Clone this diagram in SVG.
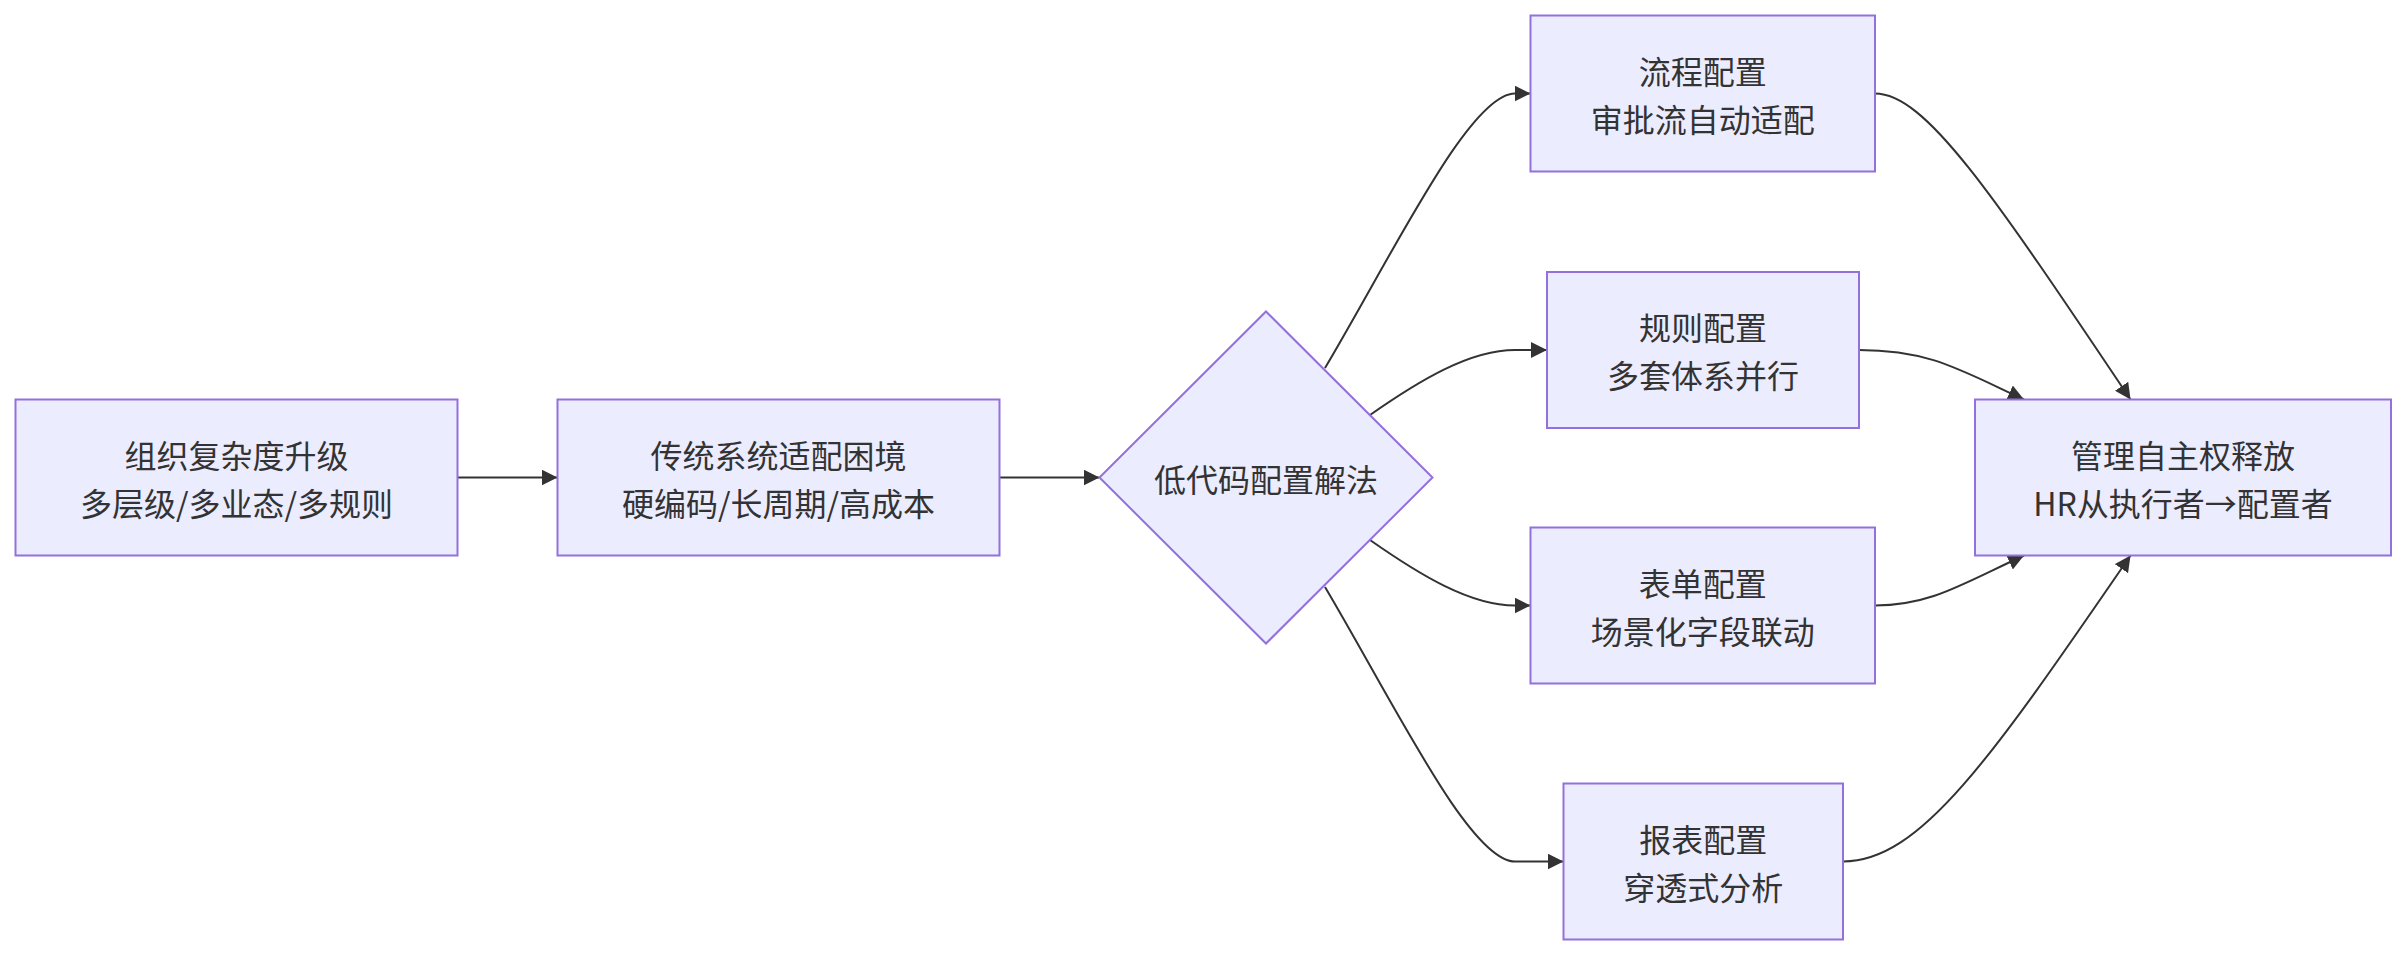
<svg xmlns="http://www.w3.org/2000/svg" width="2406" height="956" viewBox="0 0 2406 956">
<style>
.node rect, .node polygon { fill: #ECECFF; stroke: #9370DB; stroke-width: 2; }
.node text { fill: #333333; font-family: "Noto Sans CJK SC", "Noto Sans", sans-serif; font-size: 32px; text-anchor: middle; dominant-baseline: central; }
.edges path { fill: none; stroke: #333333; stroke-width: 2; marker-end: url(#arrow); }
</style>
<defs>
<marker id="arrow" viewBox="0 0 10 10" refX="10" refY="5" markerUnits="userSpaceOnUse" markerWidth="16" markerHeight="16" orient="auto">
<path d="M0,0 L10,5 L0,10 z" fill="#333333"/>
</marker>
</defs>
<rect width="2406" height="956" fill="#ffffff"/>
<g class="edges">
<path d="M457.5,477.5 L557.5,477.5"/>
<path d="M999.5,477.5 L1099.5,477.5"/>
<path d="M1325,368 C1395,250 1470,93.5 1515,93.5 L1530.5,93.5"/>
<path d="M1370,415 C1420,380 1470,350 1515,350 L1547,350"/>
<path d="M1370,540 C1420,575 1470,605.5 1515,605.5 L1530.5,605.5"/>
<path d="M1325,587 C1395,705 1470,861.5 1515,861.5 L1563.5,861.5"/>
<path d="M1875,93.5 C1925,93.5 1990,190 2130.5,399.5"/>
<path d="M1859,350 C1930,350 1960,370 2024,399.5"/>
<path d="M1875,605.5 C1930,605.5 1960,585 2024,555.5"/>
<path d="M1843,861.5 C1920,861.5 1990,760 2130.5,555.5"/>
</g>
<g id="n1" class="node">
<rect x="15.5" y="399.5" width="442" height="156"/>
<text x="236.5" y="453.5">组织复杂度升级</text>
<text x="236.5" y="501.5">多层级/多业态/多规则</text>
</g>
<g id="n2" class="node">
<rect x="557.5" y="399.5" width="442" height="156"/>
<text x="778.5" y="453.5">传统系统适配困境</text>
<text x="778.5" y="501.5">硬编码/长周期/高成本</text>
</g>
<g id="n3" class="node">
<polygon points="1266,311.5 1432.5,477.5 1266,643.5 1099.5,477.5"/>
<text x="1266" y="477.5">低代码配置解法</text>
</g>
<g id="n4" class="node">
<rect x="1530.5" y="15.5" width="344.5" height="156"/>
<text x="1702.75" y="69.5">流程配置</text>
<text x="1702.75" y="117.5">审批流自动适配</text>
</g>
<g id="n5" class="node">
<rect x="1547" y="272" width="312" height="156"/>
<text x="1703" y="326">规则配置</text>
<text x="1703" y="374">多套体系并行</text>
</g>
<g id="n6" class="node">
<rect x="1530.5" y="527.5" width="344.5" height="156"/>
<text x="1702.75" y="581.5">表单配置</text>
<text x="1702.75" y="629.5">场景化字段联动</text>
</g>
<g id="n7" class="node">
<rect x="1563.5" y="783.5" width="279.5" height="156"/>
<text x="1703.25" y="837.5">报表配置</text>
<text x="1703.25" y="885.5">穿透式分析</text>
</g>
<g id="n8" class="node">
<rect x="1975" y="399.5" width="416" height="156"/>
<text x="2183" y="453.5">管理自主权释放</text>
<text x="2183" y="501.5">HR从执行者→配置者</text>
</g>
</svg>
